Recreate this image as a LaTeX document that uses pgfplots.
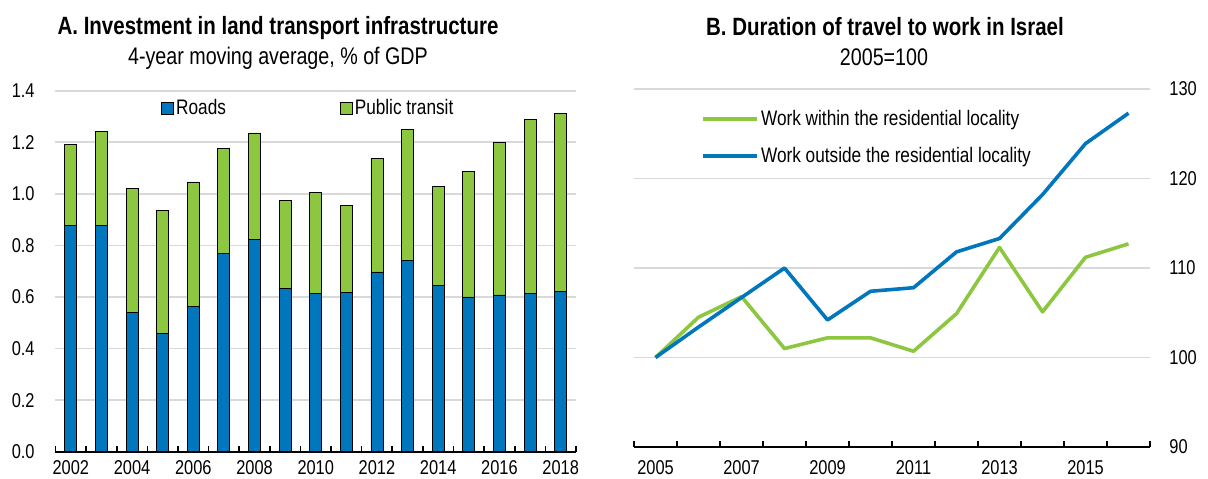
\documentclass[border=0pt]{standalone}
\usepackage{fontspec}
\setmainfont{Liberation Sans}[FakeStretch=0.82]
\usepackage{pgfplots}
\usepackage{pgfplotstable}
\pgfplotsset{compat=1.18}
\definecolor{oblue}{RGB}{0,118,189}
\definecolor{ogreen}{RGB}{141,198,63}
\definecolor{ogrid}{RGB}{217,217,217}

\pgfplotstableread{
year roads transit
2002 0.879 0.312
2003 0.876 0.365
2004 0.540 0.481
2005 0.460 0.475
2006 0.564 0.482
2007 0.770 0.407
2008 0.823 0.413
2009 0.633 0.340
2010 0.615 0.391
2011 0.617 0.337
2012 0.697 0.439
2013 0.741 0.508
2014 0.646 0.383
2015 0.600 0.487
2016 0.608 0.593
2017 0.613 0.674
2018 0.620 0.692
}\dataA

\pgfplotstableread{
year within outside
2005 100.0 100.0
2006 104.5 103.4
2007 106.8 106.7
2008 101.0 110.0
2009 102.2 104.2
2010 102.2 107.4
2011 100.7 107.8
2012 104.9 111.8
2013 112.3 113.3
2014 105.1 118.2
2015 111.2 123.9
2016 112.7 127.3
}\dataB

\pgfplotsset{
  common/.style={
    scale only axis,
    axis x line*=bottom,
    y axis line style={draw=none},
    x axis line style={line width=1pt},
    major tick length=0pt, minor tick length=3pt, tick align=inside,
    tick style={black, line width=0.8pt},
    ymajorgrids, grid style={ogrid, line width=0.8pt},
    tick label style={font=\fontsize{10}{12}\selectfont, /pgf/number format/assume math mode=true},
    xticklabel style={/pgf/number format/1000 sep={}, anchor=north, inner sep=0pt},
  }
}

\begin{document}
\begin{tikzpicture}
\useasboundingbox (0,0) rectangle (604pt,-239pt);

\node[anchor=base, font=\fontsize{12.5}{14}\selectfont\bfseries] at (139pt,-17pt) {A. Investment in land transport infrastructure};
\node[anchor=base, font=\fontsize{12}{14}\selectfont] at (139pt,-32pt) {4-year moving average, \% of GDP};
\node[anchor=base, font=\fontsize{12.5}{14}\selectfont\bfseries] at (442.5pt,-17.5pt) {B. Duration of travel to work in Israel};
\node[anchor=base, font=\fontsize{12}{14}\selectfont] at (442pt,-32.5pt) {2005=100};

\begin{axis}[
  common,
  at={(27.75pt,-225.85pt)}, anchor=south west,
  width=260.25pt, height=180.5pt,
  xmin=2001.5, xmax=2018.5, ymin=0, ymax=1.4,
  ybar stacked, bar width=6pt,
  axis y line*=left,
  ytick={0,0.2,0.4,0.6,0.8,1.0,1.2,1.4},
  xtick={2002,2004,...,2018},
  minor xtick={2001.5,2002.5,...,2018.5},
  yticklabel style={/pgf/number format/.cd, fixed, fixed zerofill, precision=1, /tikz/.cd, anchor=east, inner sep=0pt, xshift=-10.25pt},
  xticklabel style={yshift=-4.2pt},
  legend style={at={(0.2027,0.952)}, anchor=west, draw=none, fill=none, inner sep=0pt,
    legend columns=2, nodes={inner sep=1pt}, font=\fontsize{10.5}{12}\selectfont,
    /tikz/every even column/.append style={column sep=56pt}},
  legend image code/.code={\draw[#1, draw=black, line width=0.4pt] (0pt,-3pt) rectangle (6pt,3pt);},
]
\addplot[fill=oblue, draw=black, line width=0.4pt] table[x=year, y=roads] {\dataA};
\addplot[fill=ogreen, draw=black, line width=0.4pt] table[x=year, y=transit] {\dataA};
\legend{Roads, Public transit}
\end{axis}

\begin{axis}[
  common,
  at={(317pt,-223.5pt)}, anchor=south west,
  width=258pt, height=179pt,
  xmin=2004.5, xmax=2016.5, ymin=90, ymax=130,
  axis y line*=right,
  ytick={90,100,110,120,130},
  xtick={2005,2007,...,2015},
  minor xtick={2004.5,2005.5,...,2016.5},
  yticklabel style={anchor=west, inner sep=0pt, xshift=9.5pt},
  xticklabel style={yshift=-6.5pt},
  legend style={at={(0.130,0.8645)}, anchor=west, draw=none, fill=none, inner sep=0pt,
    nodes={inner sep=1pt}, row sep=7.5pt, font=\fontsize{10.5}{12}\selectfont},
  legend cell align=left,
  legend image code/.code={\draw[#1] (0pt,0pt) -- (27pt,0pt);},
]
\addplot[ogreen, line width=1.8pt, line join=round] table[x=year, y=within] {\dataB};
\addplot[oblue, line width=1.8pt, line join=round] table[x=year, y=outside] {\dataB};
\legend{Work within the residential locality, Work outside the residential locality}
\end{axis}
\end{tikzpicture}
\end{document}
